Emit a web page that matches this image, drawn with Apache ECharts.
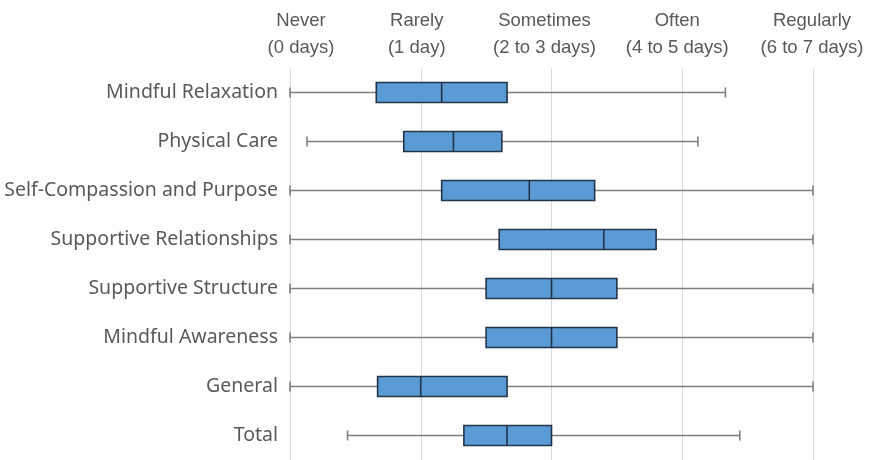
<!DOCTYPE html>
<html><head><meta charset="utf-8">
<script src="https://cdn.jsdelivr.net/npm/echarts@6/dist/echarts.min.js"></script>
<style>html,body{margin:0;padding:0;background:#fff}#c{width:870px;height:460px}</style>
</head><body><div id="c"></div>
<script>
const categories = ["Mindful Relaxation","Physical Care","Self-Compassion and Purpose","Supportive Relationships","Supportive Structure","Mindful Awareness","General","Total"];
const mins    = [0,    0.13, 0,    0,    0,   0,   0,    0.44];
const q1s     = [0.66, 0.87, 1.16, 1.60, 1.5, 1.5, 0.67, 1.33];
const medians = [1.16, 1.25, 1.83, 2.40, 2.0, 2.0, 1.0,  1.66];
const q3s     = [1.66, 1.62, 2.33, 2.80, 2.5, 2.5, 1.66, 2.0];
const maxs    = [3.33, 3.12, 4,    4,    4,   4,   4,    3.44];
const tickLines1 = ["Never","Rarely","Sometimes","Often","Regularly"];
const tickLines2 = ["(0 days)","(1 day)","(2 to 3 days)","(4 to 5 days)","(6 to 7 days)"];

const data = categories.map((c,i)=>[i, mins[i], q1s[i], medians[i], q3s[i], maxs[i]]);
const labelShift = [11,-4,-7,-5,-1];
const rich = {};
labelShift.forEach((s,i)=>{
  rich['t'+i] = {color:'#595959',fontFamily:'Liberation Sans, Arial',fontSize:18.5,lineHeight:27,
    padding: s>=0 ? [0,0,0,2*s] : [0,-2*s,0,0]};
});

const chart = echarts.init(document.getElementById('c'));
chart.setOption({
  animation:false,
  grid:{left:290,right:57,top:68,bottom:0,containLabel:false},
  xAxis:{type:'value',position:'top',min:0,max:4,interval:1,
    axisLine:{show:false},axisTick:{show:false},
    splitLine:{show:true,lineStyle:{color:'#d9d9d9',width:1}},
    axisLabel:{margin:7,color:'#595959',fontFamily:'Liberation Sans, Arial',fontSize:18.5,lineHeight:27,
      rich:rich,
      formatter:v=>'{t'+v+'|'+tickLines1[v]+'}\n{t'+v+'|'+tickLines2[v]+'}'}},
  yAxis:{type:'category',data:categories,inverse:true,
    axisLine:{show:false},axisTick:{show:false},splitLine:{show:false},
    axisLabel:{margin:12,color:'#595959',fontFamily:'Noto Sans, Open Sans',fontSize:19.5}},
  series:[{type:'custom',data:data,encode:{x:[1,2,3,4,5],y:0},
    renderItem:function(params,api){
      const ci=api.value(0);
      const pMin=api.coord([api.value(1),ci]);
      const pQ1=api.coord([api.value(2),ci]);
      const pMed=api.coord([api.value(3),ci]);
      const pQ3=api.coord([api.value(4),ci]);
      const pMax=api.coord([api.value(5),ci]);
      const y=pMin[1], bh=20, ch=10;
      const wStyle={stroke:'#7f7f7f',lineWidth:1.6};
      const bStyle={stroke:'#22344a',lineWidth:1.6};
      return {type:'group',children:[
        {type:'line',shape:{x1:pMin[0],y1:y,x2:pMax[0],y2:y},style:wStyle},
        {type:'line',shape:{x1:pMin[0],y1:y-ch/2,x2:pMin[0],y2:y+ch/2},style:wStyle},
        {type:'line',shape:{x1:pMax[0],y1:y-ch/2,x2:pMax[0],y2:y+ch/2},style:wStyle},
        {type:'rect',shape:{x:pQ1[0],y:y-bh/2,width:pQ3[0]-pQ1[0],height:bh},style:{fill:'#5b9bd5',stroke:'#22344a',lineWidth:1.6}},
        {type:'line',shape:{x1:pMed[0],y1:y-bh/2,x2:pMed[0],y2:y+bh/2},style:bStyle}
      ]};
    }}]
});
</script></body></html>
